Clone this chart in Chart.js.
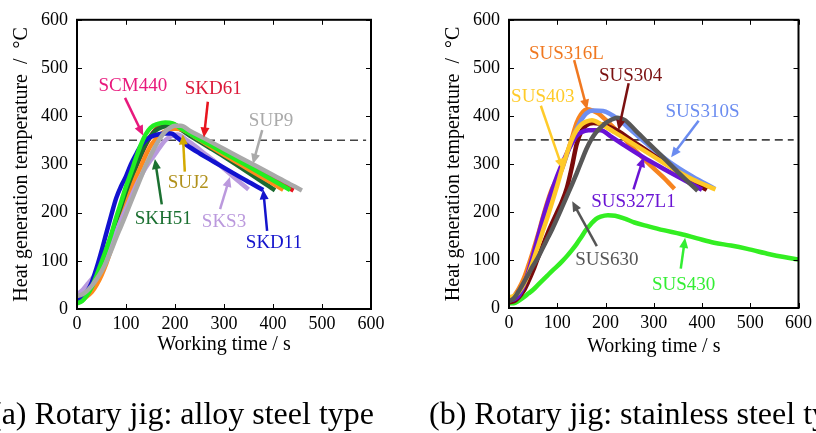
<!DOCTYPE html>
<html>
<head>
<meta charset="utf-8">
<script src="https://cdn.jsdelivr.net/npm/chart.js@4"></script>
<style>
  body { margin: 0; background: #fff; }
  canvas { position: absolute; }
</style>
</head>
<body>
<canvas id="alloy" width="408" height="360" style="left:0;top:0"></canvas>
<canvas id="stainless" width="408" height="360" style="left:408px;top:0"></canvas>
<canvas id="captions" width="816" height="73" style="left:0;top:360px"></canvas>
<script>
  // ticks on both axes (s and degC)
  const axisTicks = [0, 100, 200, 300, 400, 500, 600];
  const threshold = 350;
  const captions = ['(a) Rotary jig: alloy steel type', '(b) Rotary jig: stainless steel type'];

  // (a) alloy steels: [working time s, temperature degC]
  const sup9 = [[0,27],[10,30],[20,37],[30,48],[40,62],[50,78],[60,98],[70,122],[80,148],[90,172],[100,197],[110,222],[120,247],[130,272],[140,297],[150,318],[160,338],[170,355],[180,368],[190,376],[200,380],[212,380],[230,370],[260,354],[300,332],[350,305],[400,278],[440,256],[459,246]];
  const greenA = [[0,12],[10,16],[20,28],[30,45],[40,70],[50,97],[60,125],[70,155],[80,190],[90,222],[100,254],[110,282],[120,312],[130,340],[140,362],[150,376],[165,384],[180,387],[195,385],[210,376],[240,358],[270,341],[300,324],[350,296],[400,267],[435,247]];
  const skd11 = [[0,18],[10,22],[20,35],[30,55],[40,85],[50,120],[60,158],[70,195],[80,230],[90,255],[100,275],[110,300],[120,320],[130,338],[140,350],[150,357],[165,362],[180,364],[192,364],[205,355],[224,340],[250,323],[280,305],[310,287],[346,266],[380,247]];
  const sks3 = [[0,30],[10,38],[20,50],[30,62],[40,75],[50,92],[60,112],[70,135],[80,160],[90,185],[100,208],[110,232],[120,255],[130,275],[140,293],[150,308],[160,322],[170,337],[180,350],[195,360],[205,362],[225,350],[250,331],[275,311],[300,291],[325,269],[350,248]];
  const orangeA = [[0,18],[10,20],[20,26],[30,35],[40,50],[50,70],[60,95],[70,125],[80,155],[90,185],[100,215],[110,245],[120,272],[130,295],[140,318],[150,338],[160,352],[170,362],[185,371],[200,374],[215,372],[250,351],[300,320],[350,290],[400,260],[421,247]];
  const skh51 = [[0,15],[10,18],[20,28],[30,45],[40,68],[50,95],[60,122],[70,150],[80,180],[90,210],[100,240],[110,268],[120,295],[130,320],[140,342],[150,358],[160,370],[175,378],[190,380],[205,376],[230,360],[270,335],[300,316],[350,283],[404,246]];
  const skd61 = [[0,20],[10,22],[20,30],[30,45],[40,65],[50,90],[60,120],[70,152],[80,185],[90,215],[100,243],[110,270],[120,295],[130,318],[140,340],[150,358],[160,372],[170,381],[185,385],[200,382],[230,366],[260,348],[300,326],[350,298],[400,270],[442,246]];

  // (b) stainless steels
  const sus630 = [[0,14],[10,20],[20,35],[30,52],[40,70],[50,88],[60,105],[70,125],[80,145],[90,165],[100,187],[110,210],[120,233],[130,256],[140,280],[150,305],[160,330],[170,350],[180,365],[190,376],[200,385],[212,392],[225,396],[240,391],[260,372],[290,342],[320,313],[350,283],[375,259],[391,244]];
  const sus403 = [[0,22],[10,25],[20,33],[30,48],[40,70],[50,98],[60,128],[70,160],[80,190],[90,222],[100,255],[110,290],[120,322],[130,350],[140,370],[150,382],[160,388],[172,391],[190,383],[220,365],[260,340],[300,315],[340,290],[380,268],[428,247]];
  const sus327l1 = [[0,16],[10,18],[20,25],[30,45],[40,75],[50,110],[60,148],[70,185],[80,218],[90,248],[100,275],[110,300],[120,322],[130,342],[140,358],[150,366],[165,370],[190,370],[210,358],[240,338],[278,314],[320,290],[360,268],[400,246]];
  const sus304 = [[0,12],[10,14],[20,22],[30,35],[40,55],[50,78],[60,105],[70,130],[80,155],[90,178],[100,200],[110,222],[120,250],[130,292],[140,340],[150,368],[160,380],[175,385],[200,380],[223,370],[260,345],[300,318],[340,290],[380,264],[410,246]];
  const sus310s = [[0,14],[10,18],[20,28],[30,45],[40,70],[50,100],[60,132],[70,165],[80,198],[90,230],[100,262],[110,292],[120,320],[130,348],[140,372],[150,392],[160,405],[175,411],[195,410],[230,390],[260,364],[290,338],[333,304],[380,274],[427,248]];
  const sus316l = [[0,20],[10,25],[20,40],[30,60],[40,88],[50,119],[60,152],[70,188],[80,222],[90,250],[100,268],[110,290],[120,320],[132,359],[140,385],[149,403],[162,414],[185,405],[200,392],[230,362],[260,330],[290,300],[320,272],[343,248]];
  const sus430 = [[0,10],[10,10],[20,15],[30,22],[40,30],[50,38],[60,48],[70,58],[80,68],[90,78],[100,87],[110,97],[120,108],[130,120],[140,133],[150,148],[160,163],[170,175],[180,185],[190,190],[205,193],[220,192],[240,186],[260,178],[289,170],[320,162],[356,154],[390,145],[425,136],[460,130],[494,123],[540,112],[570,106],[600,101]];

  // first entry is drawn on top
  const alloyCurves = [
    { data: sup9, color: '#a9a9a9' },
    { data: greenA, color: '#22ee22' },
    { data: skd11, color: '#1212cf' },
    { data: sks3, color: '#b99ade' },
    { data: orangeA, color: '#ff8a1c' },
    { data: skh51, color: '#1b6b30' },
    { data: skd61, color: '#e8141e' }
  ];
  const stainlessCurves = [
    { data: sus630, color: '#575757' },
    { data: sus403, color: '#ffc928' },
    { data: sus327l1, color: '#6a12d6' },
    { data: sus304, color: '#7a0b0b' },
    { data: sus310s, color: '#6e8ff2' },
    { data: sus316l, color: '#f7841f' },
    { data: sus430, color: '#33ee22' }
  ];

  // labels with arrows, in data units
  const alloyNotes = [
    { text: 'SCM440', color: '#e8197d', at: [114, 465], from: [98, 438], to: [135, 360] },
    { text: 'SKD61', color: '#dc1a3a', arrow: '#e8141e', at: [278, 459], from: [267, 430], to: [259, 356] },
    { text: 'SUP9', color: '#aaaaaa', at: [396, 393], from: [378, 371], to: [359, 301] },
    { text: 'SUJ2', color: '#b0901a', arrow: '#d4aa00', at: [227, 264], from: [220, 285], to: [216, 362] },
    { text: 'SKH51', color: '#1b7031', at: [176, 188], from: [173, 217], to: [159, 311] },
    { text: 'SKS3', color: '#bb99dd', at: [300, 182], from: [292, 207], to: [312, 274] },
    { text: 'SKD11', color: '#1414cc', at: [402, 139], from: [388, 162], to: [380, 248] }
  ];
  const stainlessNotes = [
    { text: 'SUS316L', color: '#f07820', at: [119, 530], from: [135, 516], to: [162, 413] },
    { text: 'SUS304', color: '#7b1010', at: [252, 485], from: [248, 468], to: [227, 370] },
    { text: 'SUS403', color: '#ffcb2a', at: [70, 442], from: [66, 421], to: [111, 290] },
    { text: 'SUS310S', color: '#6b8cf0', at: [401, 411], from: [393, 390], to: [336, 314] },
    { text: 'SUS327L1', color: '#6a14d4', at: [258, 222], from: [258, 247], to: [279, 314] },
    { text: 'SUS630', color: '#555555', at: [203, 103], from: [182, 129], to: [131, 222] },
    { text: 'SUS430', color: '#33ee33', at: [362, 51], from: [356, 82], to: [365, 146] }
  ];

  const serif = '"Liberation Serif", serif';
  Chart.defaults.font.family = serif;

  const framePlugin = {
    id: 'frame',
    afterDatasetsDraw(chart) {
      const { ctx, chartArea: a, scales: { x, y } } = chart;
      ctx.save();
      ctx.strokeStyle = '#000';
      ctx.lineWidth = 1;
      ctx.beginPath();
      axisTicks.forEach(v => {
        const px = Math.round(x.getPixelForValue(v)) + 0.5;
        ctx.moveTo(px, a.bottom); ctx.lineTo(px, a.bottom - 5);
        ctx.moveTo(px, a.top); ctx.lineTo(px, a.top + 5);
        const py = Math.round(y.getPixelForValue(v)) + 0.5;
        ctx.moveTo(a.left, py); ctx.lineTo(a.left + 5, py);
        ctx.moveTo(a.right, py); ctx.lineTo(a.right - 5, py);
      });
      ctx.stroke();
      ctx.lineWidth = 2;
      ctx.strokeRect(a.left, a.top, a.right - a.left, a.bottom - a.top);
      ctx.restore();
    }
  };

  function notesPlugin(notes) {
    return {
      id: 'notes',
      afterDatasetsDraw(chart) {
        const { ctx, scales: { x, y } } = chart;
        ctx.save();
        notes.forEach(n => {
          const c = n.arrow || n.color;
          const x1 = x.getPixelForValue(n.from[0]), y1 = y.getPixelForValue(n.from[1]);
          const x2 = x.getPixelForValue(n.to[0]), y2 = y.getPixelForValue(n.to[1]);
          const ang = Math.atan2(y2 - y1, x2 - x1);
          const hl = 10, hw = 4.5;
          ctx.strokeStyle = c;
          ctx.fillStyle = c;
          ctx.lineWidth = 2.5;
          ctx.beginPath();
          ctx.moveTo(x1, y1);
          ctx.lineTo(x2 - Math.cos(ang) * hl * 0.8, y2 - Math.sin(ang) * hl * 0.8);
          ctx.stroke();
          ctx.beginPath();
          ctx.moveTo(x2, y2);
          ctx.lineTo(x2 - Math.cos(ang) * hl - Math.sin(ang) * hw, y2 - Math.sin(ang) * hl + Math.cos(ang) * hw);
          ctx.lineTo(x2 - Math.cos(ang) * hl + Math.sin(ang) * hw, y2 - Math.sin(ang) * hl - Math.cos(ang) * hw);
          ctx.closePath();
          ctx.fill();

          ctx.fillStyle = n.color;
          ctx.font = '19px "Liberation Serif", serif';
          ctx.textAlign = 'center';
          ctx.textBaseline = 'alphabetic';
          ctx.fillText(n.text, x.getPixelForValue(n.at[0]), y.getPixelForValue(n.at[1]) + 6);
        });
        ctx.restore();
      }
    };
  }

  function buildChart(id, curves, notes, lay) {
    const datasets = curves.map(c => ({
      data: c.data.map(p => ({ x: p[0], y: p[1] })),
      borderColor: c.color,
      borderWidth: 4.5,
      pointRadius: 0,
      fill: false,
      cubicInterpolationMode: 'monotone'
    }));
    datasets.push({
      data: [{ x: lay.dashFrom, y: threshold }, { x: 590, y: threshold }],
      borderColor: '#444',
      borderWidth: 1.6,
      borderDash: [8, 5],
      pointRadius: 0
    });

    return new Chart(document.getElementById(id), {
      type: 'line',
      data: { datasets: datasets },
      options: {
        responsive: false,
        animation: false,
        devicePixelRatio: 1,
        layout: { padding: { left: lay.left, top: 16, right: lay.right, bottom: 0 } },
        plugins: { legend: { display: false }, tooltip: { enabled: false } },
        scales: {
          x: {
            type: 'linear', min: 0, max: 600,
            grid: { display: false, drawTicks: false },
            border: { display: false },
            afterBuildTicks: s => { s.ticks = axisTicks.map(v => ({ value: v })); },
            ticks: { padding: 4, color: '#000', font: { family: serif, size: 18 } },
            title: { display: true, text: 'Working time / s', color: '#000', font: { family: serif, size: 20 }, padding: { top: 0, bottom: lay.xTitle } },
            afterFit: s => { s.height = lay.xh; }
          },
          y: {
            type: 'linear', min: 0, max: 600,
            grid: { display: false, drawTicks: false },
            border: { display: false },
            afterBuildTicks: s => { s.ticks = axisTicks.map(v => ({ value: v })); },
            ticks: { padding: 9, color: '#000', font: { family: serif, size: 18 } },
            title: { display: true, text: 'Heat generation temperature  /  \u00B0C', color: '#000', font: { family: serif, size: 20 }, padding: { top: lay.yTitle, bottom: 0 } },
            afterFit: s => { s.width = lay.yw; }
          }
        }
      },
      plugins: [framePlugin, notesPlugin(notes)]
    });
  }

  const charts = [
    buildChart('alloy', alloyCurves, alloyNotes, { left: 0, right: 37, yw: 77, xh: 51, xTitle: 3, yTitle: 10, dashFrom: 0 }),
    buildChart('stainless', stainlessCurves, stainlessNotes, { left: 23, right: 14, yw: 78, xh: 52, xTitle: 1, yTitle: 11, dashFrom: 12 })
  ];

  function drawCaptions() {
    const cap = document.getElementById('captions').getContext('2d');
    cap.clearRect(0, 0, 816, 73);
    cap.font = '32px "Liberation Serif", serif';
    cap.fillStyle = '#000';
    cap.textBaseline = 'alphabetic';
    cap.fillText(captions[0], -9, 64);
    cap.fillText(captions[1], 429, 64);
  }

  // redraw once fonts are surely in place
  function redraw() {
    drawCaptions();
    charts.forEach(c => c.draw());
  }
  drawCaptions();
  document.fonts.load('32px "Liberation Serif"').then(redraw, redraw);
  setTimeout(redraw, 150);
</script>
</body>
</html>
